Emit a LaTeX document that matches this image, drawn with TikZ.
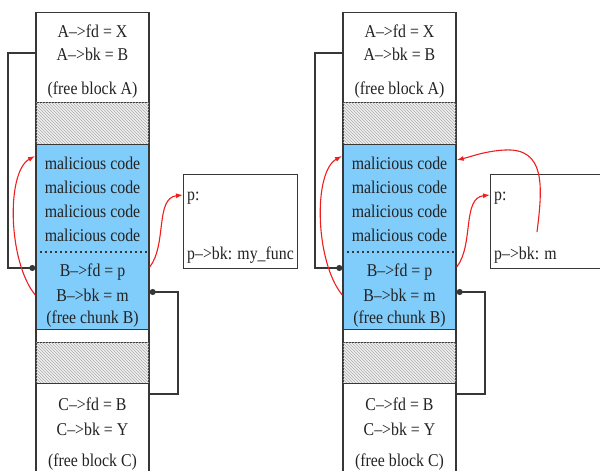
\documentclass[tikz,border=0pt]{standalone}
\usepackage{fontspec}
\setmainfont{Liberation Serif}[FakeStretch=0.88]
\usetikzlibrary{arrows.meta,patterns}
\definecolor{chunkblue}{RGB}{128,204,250}
\definecolor{edgegray}{RGB}{55,55,55}
\definecolor{textgray}{RGB}{35,35,35}
\definecolor{arrowred}{RGB}{240,30,30}
\tikzset{
  block/.style={draw=edgegray, line width=1.4pt, minimum width=113pt, inner sep=0pt, anchor=north},
  hatchbox/.style={block, fill=gray!12, postaction={pattern=north west lines, pattern color=gray!65}},
  txt/.style={font=\fontsize{18}{20}\selectfont, text=textgray, inner sep=0pt, anchor=base},
  ltxt/.style={txt, anchor=base west},
  link/.style={draw=edgegray, line width=1.4pt, -{Circle[length=6pt]}},
  redarrow/.style={draw=arrowred, line width=1.1pt, -{Latex[length=7pt,width=5pt]}},
  dotline/.style={draw=edgegray, line width=1.5pt, dash pattern=on 2pt off 3pt},
  pbox/.style={draw=edgegray, line width=1.4pt, fill=white, minimum width=114pt, minimum height=94pt, inner sep=0pt, anchor=north west}
}
\newcommand\heapdiagram[3]{%
\begin{scope}[xshift=#2]
  % memory column
  \node[block, fill=white, minimum height=90pt] (#1A) at (92.5,12) {};
  \node[hatchbox, minimum height=42pt] (#1H1) at (92.5,102) {};
  \node[block, fill=chunkblue, minimum height=185pt] (#1B) at (92.5,144) {};
  \node[block, fill=white, minimum height=13pt] (#1G) at (92.5,329) {};
  \node[hatchbox, minimum height=41pt] (#1H2) at (92.5,342) {};
  \node[block, fill=white, minimum height=110pt] (#1C) at (92.5,383) {};
  \draw[dotline] (#1B.west |- 0,252) -- (#1B.east |- 0,252);
  % texts
  \node[txt] (#1Afd) at (92.5,37) {A–>fd = X};
  \node[txt] (#1Abk) at (92.5,60) {A–>bk = B};
  \node[txt] (#1Aname) at (92.5,94) {(free block A)};
  \node[txt] (#1m1) at (92.5,169) {malicious code};
  \node[txt] (#1m2) at (92.5,193) {malicious code};
  \node[txt] (#1m3) at (92.5,217) {malicious code};
  \node[txt] (#1m4) at (92.5,241) {malicious code};
  \node[txt] (#1Bfd) at (92.5,276) {B–>fd = p};
  \node[txt] (#1Bbk) at (92.5,301) {B–>bk = m};
  \node[txt] (#1Bname) at (92.5,323) {(free chunk B)};
  \node[txt] (#1Cfd) at (92.5,410) {C–>fd = B};
  \node[txt] (#1Cbk) at (92.5,435) {C–>bk = Y};
  \node[txt] (#1Cname) at (92.5,466) {(free block C)};
  % p box
  \node[pbox] (#1P) at (183,174) {};
  \node[ltxt] (#1Pp) at (187,200) {p:};
  \node[ltxt] (#1Pbk) at (187,259) {p–>bk: #3};
  % black links
  \coordinate (#1a1) at (8,53);
  \coordinate (#1c1) at (178,394);
  \draw[link] (#1A.west |- 0,53) -- (#1a1) |- (#1B.west |- 0,268);
  \draw[link] (#1C.east |- 0,394) -- (#1c1) |- (#1B.east |- 0,292);
  % red arrows
  \draw[redarrow] (#1B.west |- 0,295) .. controls (8,262) and (6,172) .. (35,156);
  \draw[redarrow] (#1B.east |- 0,267) .. controls (167,245) and (155,198) .. (#1P.west |- 0,195);
\end{scope}}
\begin{document}
\begin{tikzpicture}[x=1pt,y=-1pt]
  \useasboundingbox (0,0) rectangle (600,471);
  \clip (0,0) rectangle (600,471);
  \fill[white] (0,0) rectangle (600,471);
  \heapdiagram{L}{0}{my\_func}
  \heapdiagram{R}{307}{m}
  \draw[redarrow] (537,232) .. controls (543,185) and (545,148) .. (505,150) .. controls (485,151) and (470,157) .. (RB.east |- 0,160);
\end{tikzpicture}
\end{document}
